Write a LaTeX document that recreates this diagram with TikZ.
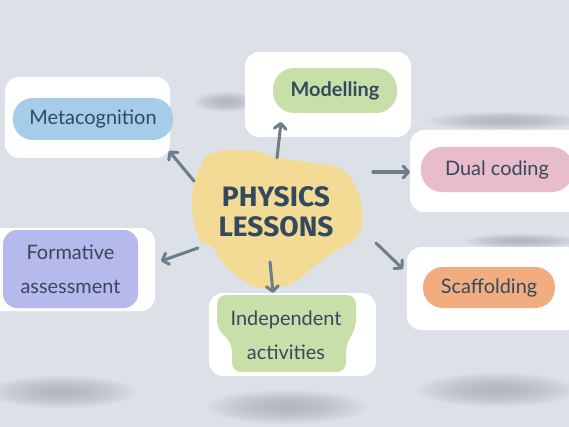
\documentclass[tikz,border=0pt]{standalone}
\usepackage{fontspec}
\setmainfont{Lato}
\newfontfamily\hubfont{Fira Sans}
\usetikzlibrary{arrows.meta,calc}

\definecolor{bgcol}{HTML}{DCE0E7}
\definecolor{shadowgray}{HTML}{A9AEB7}
\definecolor{ink}{HTML}{34495E}
\definecolor{linkgray}{HTML}{6E7D8B}
\definecolor{hubyellow}{HTML}{F4DB95}
\definecolor{blueP}{HTML}{A5CCE8}
\definecolor{greenP}{HTML}{C8DFA9}
\definecolor{pinkP}{HTML}{E8BCCB}
\definecolor{lilacP}{HTML}{B6B9EC}
\definecolor{orangeP}{HTML}{F1AD80}

\def\pxu{0.03cm}
% soft blurred spot: centre x, centre y, x radius, y radius
\newcommand\softspot[4]{%
  \foreach \k in {0,...,15}{
    \pgfmathsetmacro\r{1-0.058*\k}
    \fill[shadowgray, fill opacity=0.075] (#1,#2) ellipse [x radius=#3*\r, y radius=#4*\r];}}

\begin{document}
\begin{tikzpicture}[
  x=0.03cm, y=-0.03cm,
  >={Straight Barb[length=4.5pt,width=10pt,round]},
  card/.style = {fill=white, rounded corners=12pt, inner sep=0pt},
  pill/.style = {inner sep=0pt, text=ink, align=center,
                 font=\fontsize{17}{29}\selectfont},
  link/.style = {draw=linkgray, line width=2.6pt, line cap=round, ->},
]

\fill[bgcol] (0,0) rectangle (569,427);
\useasboundingbox (0,0) rectangle (569,427);

% soft shadows on the floor and behind the cards
\softspot{62}{392}{75}{16}
\softspot{287}{407}{80}{17}
\softspot{497}{390}{80}{17}
\softspot{226}{102}{32}{10}
\softspot{505}{121}{78}{9}
\softspot{522}{241}{58}{7}

% white cards
\node[card, minimum width=165*\pxu, minimum height=81*\pxu] (metaCard) at (87.5,117.5) {};
\node[card, minimum width=166*\pxu, minimum height=85*\pxu] (modCard)  at (328,94.5) {};
\node[card, minimum width=175*\pxu, minimum height=82*\pxu] (dualCard) at (497.5,171) {};
\node[card, minimum width=170*\pxu, minimum height=83*\pxu] (formCard) at (70,269.5) {};
\node[card, minimum width=167*\pxu, minimum height=83*\pxu] (indCard)  at (292.5,334.5) {};
\node[card, minimum width=173*\pxu, minimum height=83*\pxu] (scafCard) at (493.5,288.5) {};

% coloured labels
\node[pill, fill=blueP, minimum width=160*\pxu, minimum height=42*\pxu,
      rounded corners=17pt] (meta) at (93,119) {Metacognition};
\node[pill, fill=greenP, minimum width=124*\pxu, minimum height=45*\pxu,
      rounded corners=18pt, font=\fontsize{17}{29}\selectfont\bfseries] (mod) at (335,90.5) {Modelling};
\node[pill, fill=pinkP, minimum width=152*\pxu, minimum height=45*\pxu,
      rounded corners=18pt] (dual) at (497,169.5) {Dual coding};
\node[pill, fill=lilacP, minimum width=135*\pxu, minimum height=78*\pxu,
      rounded corners=12pt] (form) at (70.5,269) {Formative\\assessment};
\node[pill, fill=orangeP, minimum width=132*\pxu, minimum height=41*\pxu,
      rounded corners=17pt] (scaf) at (489,287.5) {Scaffolding};

\fill[greenP, rounded corners=8pt]
  (217,295) -- (356,295) -- (356,330) -- (346,342) -- (346,372)
  -- (232,372) -- (232,342) -- (217,330) -- cycle;
\node[pill] (ind) at (286,335) {Independent\\activities};

% central blob
\fill[hubyellow] plot[smooth cycle, tension=0.7] coordinates {
  (213,153) (247,150) (280,158) (313,163) (340,168) (357,190)
  (362,217) (357,237) (337,250) (313,267) (293,283) (267,288)
  (247,283) (223,263) (213,247) (200,240) (193,217) (193,190) (200,167)};
\node[text=ink, align=center, font=\hubfont\bfseries\fontsize{24}{26}\selectfont]
  (hub) at (276,212) {PHYSICS\\LESSONS};

% connectors
\coordinate (mcS) at (194,181); \coordinate (mcT) at (169,151);
\coordinate (moS) at (277,158); \coordinate (moT) at (281,122);
\coordinate (dcS) at (373,172); \coordinate (dcT) at (410,172);
\coordinate (faS) at (198,248); \coordinate (faT) at (161,261);
\coordinate (iaS) at (270,262); \coordinate (iaT) at (273,293);
\coordinate (scS) at (376,243); \coordinate (scT) at (403,269);

\foreach \s/\t in {mcS/mcT, moS/moT, dcS/dcT, faS/faT, iaS/iaT, scS/scT}
  \draw[link] (\s) -- (\t);

\end{tikzpicture}
\end{document}
